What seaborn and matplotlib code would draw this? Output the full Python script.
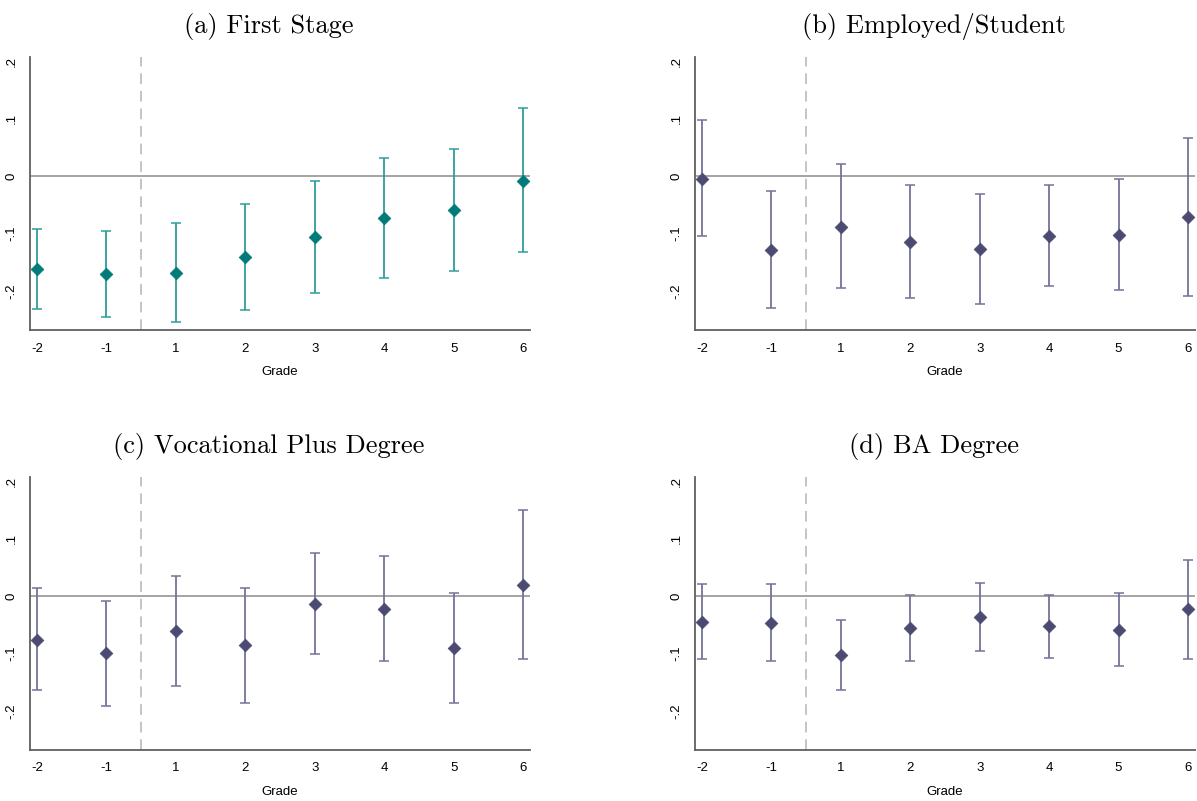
import numpy as np
import pandas as pd
import matplotlib
matplotlib.use("Agg")
import matplotlib.pyplot as plt
import seaborn as sns

# Event-study style estimates: grade, point estimate, lower CI, upper CI
grades = ["-2", "-1", "1", "2", "3", "4", "5", "6"]

first_est = [-0.162, -0.170, -0.168, -0.141, -0.106, -0.073, -0.060, -0.008]
first_lo = [-0.232, -0.246, -0.254, -0.234, -0.204, -0.177, -0.166, -0.133]
first_hi = [-0.092, -0.095, -0.081, -0.048, -0.008, 0.031, 0.047, 0.119]

emp_est = [-0.005, -0.128, -0.088, -0.115, -0.127, -0.105, -0.103, -0.072]
emp_lo = [-0.105, -0.229, -0.195, -0.213, -0.222, -0.192, -0.199, -0.208]
emp_hi = [0.097, -0.026, 0.021, -0.016, -0.031, -0.016, -0.006, 0.066]

voc_est = [-0.076, -0.100, -0.061, -0.086, -0.014, -0.023, -0.091, 0.019]
voc_lo = [-0.164, -0.191, -0.157, -0.186, -0.101, -0.113, -0.187, -0.110]
voc_hi = [0.013, -0.009, 0.035, 0.014, 0.075, 0.069, 0.006, 0.149]

ba_est = [-0.045, -0.047, -0.102, -0.056, -0.037, -0.053, -0.059, -0.023]
ba_lo = [-0.110, -0.114, -0.164, -0.113, -0.095, -0.108, -0.122, -0.109]
ba_hi = [0.021, 0.021, -0.041, 0.001, 0.022, 0.001, 0.005, 0.062]

titles = ["(a) First Stage", "(b) Employed/Student",
          "(c) Vocational Plus Degree", "(d) BA Degree"]

sns.set_style("white")
plt.rcParams["font.family"] = ["Liberation Sans", "DejaVu Sans"]
plt.rcParams["text.color"] = "black"
plt.rcParams["axes.labelcolor"] = "black"
plt.rcParams["xtick.color"] = "black"
plt.rcParams["ytick.color"] = "black"

fig = plt.figure(figsize=(11.97, 8.01), dpi=100)

# axes boxes in figure fractions (left, bottom, width, height)
boxes = [
    [0.0251, 0.588, 0.4177, 0.3408],
    [0.5806, 0.588, 0.4177, 0.3408],
    [0.0251, 0.0637, 0.4177, 0.3408],
    [0.5806, 0.0637, 0.4177, 0.3408],
]
panels = [
    (first_est, first_lo, first_hi, "#007b78", "#2e9e9b"),
    (emp_est, emp_lo, emp_hi, "#4a4a72", "#73739a"),
    (voc_est, voc_lo, voc_hi, "#4a4a72", "#73739a"),
    (ba_est, ba_lo, ba_hi, "#4a4a72", "#73739a"),
]

for box, (est, lo, hi, mcol, lcol), title in zip(boxes, panels, titles):
    ax = fig.add_axes(box)
    df = pd.DataFrame({"grade": grades, "est": est, "lo": lo, "hi": hi})
    df["pos"] = np.arange(len(df))

    ax.axhline(0, color="#8c8c8c", lw=1.1, zorder=1)
    ax.axvline(1.5, color="#b4b4b4", lw=1.1, ls=(0, (7, 4.5)), zorder=1)

    ax.errorbar(df["pos"], df["est"],
                yerr=[df["est"] - df["lo"], df["hi"] - df["est"]],
                fmt="none", ecolor=lcol, elinewidth=1.3, capsize=3.8,
                capthick=1.1, zorder=2)
    sns.scatterplot(data=df, x="pos", y="est", ax=ax, marker="D", s=42,
                    color=mcol, edgecolor=mcol, linewidth=0.5, zorder=3,
                    legend=False)

    ax.set_xlim(-0.1, 7.1)
    ax.set_ylim(-0.268, 0.207)
    ax.set_xticks(df["pos"])
    ax.set_xticklabels(grades, fontsize=9.5)
    ax.set_yticks([-0.2, -0.1, 0, 0.1, 0.2])
    ax.set_yticklabels(["-.2", "-.1", "0", ".1", ".2"], fontsize=9.5,
                       rotation=90, va="center")
    ax.set_xlabel("Grade", fontsize=9.5, labelpad=8)
    ax.set_ylabel("")
    ax.tick_params(axis="both", direction="out", length=4, width=1,
                   color="#707070", pad=5)
    for s in ["top", "right"]:
        ax.spines[s].set_visible(False)
    for s in ["left", "bottom"]:
        ax.spines[s].set_color("#606060")
        ax.spines[s].set_linewidth(1.3)

    ax.set_title(title, fontsize=19, family="cmr10", pad=17, x=0.478)

fig.savefig("out.png", dpi=100)
